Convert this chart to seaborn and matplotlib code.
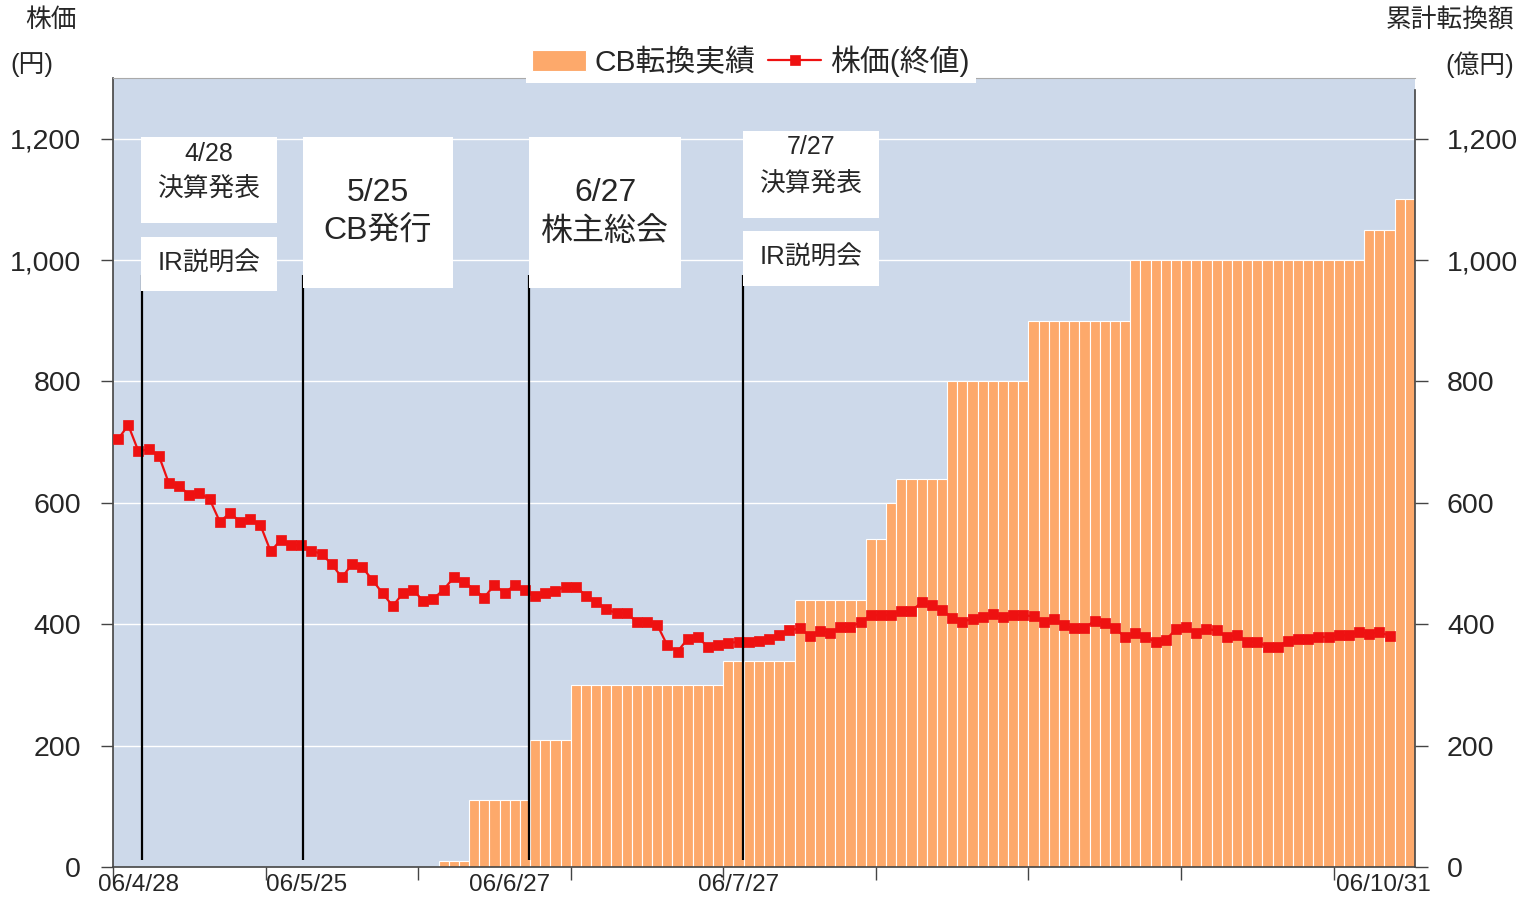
import matplotlib
matplotlib.use("Agg")
import matplotlib.pyplot as plt
import seaborn as sns
import pandas as pd
from matplotlib.patches import Rectangle
from matplotlib.transforms import Affine2D
from matplotlib.ticker import FuncFormatter

# ---- data ----
# cumulative CB conversion (億円), one bar per trading day
cb_total = [
    0, 0, 0, 0, 0, 0, 0, 0, 0, 0,
    0, 0, 0, 0, 0, 0, 0, 0, 0, 0,
    0, 0, 0, 0, 0, 0, 0, 0, 0, 0,
    0, 0, 10, 10, 10, 110, 110, 110, 110, 110,
    110, 210, 210, 210, 210, 300, 300, 300, 300, 300,
    300, 300, 300, 300, 300, 300, 300, 300, 300, 300,
    340, 340, 340, 340, 340, 340, 340, 440, 440, 440,
    440, 440, 440, 440, 540, 540, 600, 640, 640, 640,
    640, 640, 800, 800, 800, 800, 800, 800, 800, 800,
    900, 900, 900, 900, 900, 900, 900, 900, 900, 900,
    1000, 1000, 1000, 1000, 1000, 1000, 1000, 1000, 1000, 1000,
    1000, 1000, 1000, 1000, 1000, 1000, 1000, 1000, 1000, 1000,
    1000, 1000, 1000, 1050, 1050, 1050, 1100, 1100,
]
# closing price (円)
close_price = [
    705, 728, 685, 688, 678, 632, 628, 613, 616, 606,
    569, 583, 569, 573, 563, 520, 539, 530, 530, 521,
    516, 499, 477, 499, 494, 473, 451, 430, 451, 457,
    438, 442, 457, 477, 470, 457, 444, 465, 451, 465,
    457, 446, 451, 455, 462, 462, 447, 437, 425, 418,
    418, 404, 404, 399, 365, 355, 376, 379, 362, 366,
    369, 371, 371, 373, 376, 382, 390, 393, 381, 389,
    385, 395, 396, 403, 415, 415, 415, 422, 422, 436,
    431, 423, 411, 404, 409, 412, 417, 412, 415, 415,
    413, 404, 408, 398, 393, 393, 406, 402, 393, 379,
    385, 379, 371, 374, 392, 395, 385, 392, 390, 379,
    382, 371, 371, 363, 363, 373, 375, 375, 379, 379,
    382, 382, 387, 384, 387, 381,
]
day_no = list(range(len(cb_total)))
date_labels = ["06/4/28", "06/5/25", "06/6/27", "06/7/27", "06/10/31"]
date_label_pos = [1.96, 18.5, 38.5, 60.96, 124.4]
event_pos = [2.4, 18.2, 40.4, 61.45]
y_ticks = [0, 200, 400, 600, 800, 1000, 1200]

BAR_C = "#FDA96B"
LINE_C = "#EE1111"
BG_C = "#CDD9EA"
AX_C = "#444444"

sns.set_style("ticks")
plt.rcParams["font.family"] = ["Liberation Sans", "Noto Sans CJK JP"]

fig = plt.figure(figsize=(15.24, 9), dpi=100)
ax = fig.add_axes([113 / 1524, 33 / 900, 1302 / 1524, 789 / 900])
ax.set_facecolor(BG_C)
# reference-pixel transform for the annotations
pxT = Affine2D().scale(1 / 1524, -1 / 900).translate(0, 1) + fig.transFigure

df = pd.DataFrame({"day": day_no, "cb": cb_total})
sns.barplot(data=df, x="day", y="cb", ax=ax, color=BAR_C, saturation=1,
            width=1.0, edgecolor="white", linewidth=0.8, label="CB転換実績")
sns.lineplot(x=day_no[:len(close_price)], y=close_price, ax=ax, color=LINE_C,
             linewidth=1.6, marker="s", markersize=7.5, markeredgewidth=0.5,
             markeredgecolor=LINE_C, label="株価(終値)", zorder=4)

ax.vlines(event_pos, 12, 975, color="black", lw=1.6, zorder=5)

ax.set_xlim(-0.5, len(cb_total) - 0.5)
ax.set_ylim(0, 1300)
ax.set_xlabel("")
ax.set_ylabel("")
ax.set_axisbelow(True)
ax.yaxis.grid(True, color="white", lw=1)
ax.xaxis.grid(False)

fmt = FuncFormatter(lambda v, p: f"{int(v):,}")
ax.set_yticks(y_ticks)
ax.yaxis.set_major_formatter(fmt)
ax.tick_params(axis="y", left=True, direction="out", length=9, width=1,
               color=AX_C, labelsize=20.5, pad=14)

ax.set_xticks([-0.5 + 15 * k for k in range(9)])
ax.set_xticklabels([])
ax.set_xticks(date_label_pos, minor=True)
ax.set_xticklabels(date_labels, minor=True)
ax.tick_params(axis="x", which="major", bottom=True, direction="out",
               length=9, width=1, color=AX_C)
ax.tick_params(axis="x", which="minor", bottom=True, length=0, pad=5,
               labelsize=17.5)

for s in ["left", "bottom"]:
    ax.spines[s].set_color(AX_C)
    ax.spines[s].set_linewidth(1.2)
ax.spines["top"].set_color("#AAAAAA")
ax.spines["right"].set_visible(False)

ax2 = ax.twinx()
ax2.set_ylim(0, 1300)
ax2.set_yticks(y_ticks)
ax2.yaxis.set_major_formatter(fmt)
ax2.tick_params(axis="y", right=True, direction="out", length=9, width=1,
                color=AX_C, labelsize=20.5, pad=14)
for s in ["top", "left", "bottom"]:
    ax2.spines[s].set_visible(False)
ax2.spines["right"].set_color(AX_C)
ax2.spines["right"].set_linewidth(1.2)
ax2.spines["right"].set_bounds(0, 1280)

# legend: bars first, then the price line
handles, labels = ax.get_legend_handles_labels()
order = [labels.index("CB転換実績"), labels.index("株価(終値)")]
leg = ax.legend([handles[i] for i in order], [labels[i] for i in order],
                loc="center", ncol=2,
                bbox_to_anchor=(751 / 1524, 1 - 61 / 900),
                bbox_transform=fig.transFigure, fontsize=21.5,
                frameon=True, fancybox=False, edgecolor="none",
                facecolor="white", framealpha=1, borderpad=0.2,
                columnspacing=0.4, handletextpad=0.3, handlelength=1.8)
leg.set_zorder(10)

# axis titles
fig.text(51, 20, "株価", transform=pxT, ha="center", va="center", fontsize=18.5)
fig.text(32, 65, "(円)", transform=pxT, ha="center", va="center", fontsize=18.5)
fig.text(1450, 20, "累計転換額", transform=pxT, ha="center", va="center", fontsize=18.5)
fig.text(1480, 65, "(億円)", transform=pxT, ha="center", va="center", fontsize=18.5)

# event note boxes: (x0, y0, x1, y1), [(text, y, size)]
notes = [
    ((141, 137, 277, 223), [("4/28", 154, 18), ("決算発表", 190, 18.5)]),
    ((141, 237, 277, 291), [("IR説明会", 264, 18.5)]),
    ((303, 137, 453, 288), [("5/25", 193, 23), ("CB発行", 232, 23)]),
    ((529, 137, 681, 288), [("6/27", 193, 23), ("株主総会", 232, 23)]),
    ((743, 131, 879, 218), [("7/27", 147, 18), ("決算発表", 185, 18.5)]),
    ((743, 231, 879, 286), [("IR説明会", 258, 18.5)]),
]
for (x0, y0, x1, y1), texts in notes:
    fig.add_artist(Rectangle((x0, y0), x1 - x0, y1 - y0, transform=pxT,
                             facecolor="white", edgecolor="none", zorder=2))
    for t, ty, fs in texts:
        fig.text((x0 + x1) / 2, ty, t, transform=pxT, ha="center",
                 va="center", fontsize=fs, zorder=3)

fig.savefig("out.png", dpi=100, facecolor="white")
